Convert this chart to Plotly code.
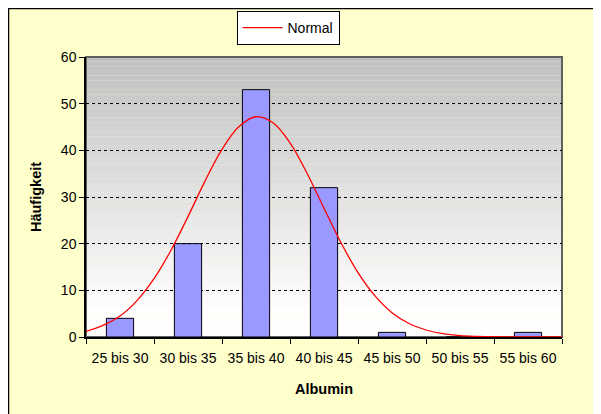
import plotly.graph_objects as go

# ---- data ----
categories = ["25 bis 30", "30 bis 35", "35 bis 40", "40 bis 45",
              "45 bis 50", "50 bis 55", "55 bis 60"]
counts = [4, 20, 53, 32, 1, 0, 1]

curve_x = [25, 26.25, 27.5, 28.75, 30, 31.25, 32.5, 33.75, 35, 36.25,
           37.5, 38.75, 40, 41.25, 42.5, 43.75, 45, 46.25, 47.5, 48.75,
           50, 51.25, 52.5, 53.75, 55, 56.25, 57.5, 58.75, 60]
curve_y = [1.2, 2.5, 4.5, 7.8, 12.5, 18.6, 25.8, 33.4, 40.2, 45.1,
           47.2, 45.9, 41.6, 35.1, 27.6, 20.2, 13.8, 8.8, 5.2, 2.9,
           1.5, 0.7, 0.3, 0.13, 0.05, 0.02, 0.01, 0, 0]

y_ticks = [0, 10, 20, 30, 40, 50, 60]

# page body margin is 8px; the figure runs past the right/bottom window edges
W, H = 601, 414
L, R, T, B = 78, 47, 49, 85
pw, ph = W - L - R, H - T - B

FONT = "Liberation Sans, Arial, sans-serif"

fig = go.Figure()
fig.add_trace(go.Bar(
    x=categories, y=counts, showlegend=False,
    marker=dict(color="#9999FF", line=dict(color="black", width=1)),
    xaxis="x", yaxis="y",
))
fig.add_trace(go.Scatter(
    x=curve_x, y=curve_y, mode="lines", name="Normal",
    line=dict(color="#FF0000", width=1.3, shape="spline"),
    xaxis="x2", yaxis="y",
))


def px2paper_x(px):
    return (px - L) / pw


def px2paper_y(py):
    return (H - B - py) / ph


shapes = []
# black border on top and left of the chart area
shapes.append(dict(type="line", xref="paper", yref="paper",
                   x0=px2paper_x(0), x1=px2paper_x(W + 5),
                   y0=px2paper_y(0.5), y1=px2paper_y(0.5),
                   line=dict(color="black", width=1.5), layer="below"))
shapes.append(dict(type="line", xref="paper", yref="paper",
                   x0=px2paper_x(0.5), x1=px2paper_x(0.5),
                   y0=px2paper_y(0), y1=px2paper_y(H + 5),
                   line=dict(color="black", width=1.5), layer="below"))
# plot area gradient (grey top -> white bottom)
n = 60
for i in range(n):
    v0 = i
    v1 = i + 1
    vm = (v0 + v1) / 2
    if vm < 5:
        c = 255
    else:
        c = int(round(255 - (vm - 5) / 55 * 63))
    shapes.append(dict(type="rect", xref="x domain", yref="y",
                       x0=0, x1=1, y0=v0, y1=v1,
                       fillcolor=f"rgb({c},{c},{c})", line=dict(width=0),
                       layer="below"))
# plot area border
shapes.append(dict(type="rect", xref="x domain", yref="y domain",
                   x0=0, x1=1, y0=0, y1=1,
                   fillcolor="rgba(0,0,0,0)", line=dict(color="#606060", width=2),
                   layer="below"))

fig.update_layout(
    width=W, height=H,
    margin=dict(l=L, r=R, t=T, b=B, autoexpand=False),
    paper_bgcolor="#FFFFCC",
    plot_bgcolor="rgba(0,0,0,0)",
    font=dict(family=FONT, size=14, color="black"),
    bargap=0.6,
    shapes=shapes,
    showlegend=True,
    legend=dict(x=px2paper_x(280), y=px2paper_y(3), xanchor="center", yanchor="top",
                bgcolor="white", bordercolor="black", borderwidth=1,
                itemwidth=40,
                font=dict(family=FONT, size=14)),
    xaxis=dict(
        type="category", range=[-0.5, 6.5],
        tickson="boundaries", ticks="outside", ticklen=5, tickcolor="black",
        showline=True, linecolor="black", linewidth=1.5,
        showgrid=False, zeroline=False, automargin=False,
        ticklabelstandoff=7,
        title=dict(text="<b>Albumin</b>", font=dict(family=FONT, size=14.5), standoff=19),
    ),
    xaxis2=dict(overlaying="x", range=[25, 60], visible=False),
    yaxis=dict(
        range=[0, 60], tickvals=y_ticks,
        ticks="outside", ticklen=5, tickcolor="black",
        showline=True, linecolor="black", linewidth=1.5,
        showgrid=True, gridcolor="black", griddash="dot", gridwidth=1,
        zeroline=False, automargin=False,
        title=dict(text="<b>Häufigkeit</b>", font=dict(family=FONT, size=14.5), standoff=16),
    ),
)

fig.write_html("out.html")
